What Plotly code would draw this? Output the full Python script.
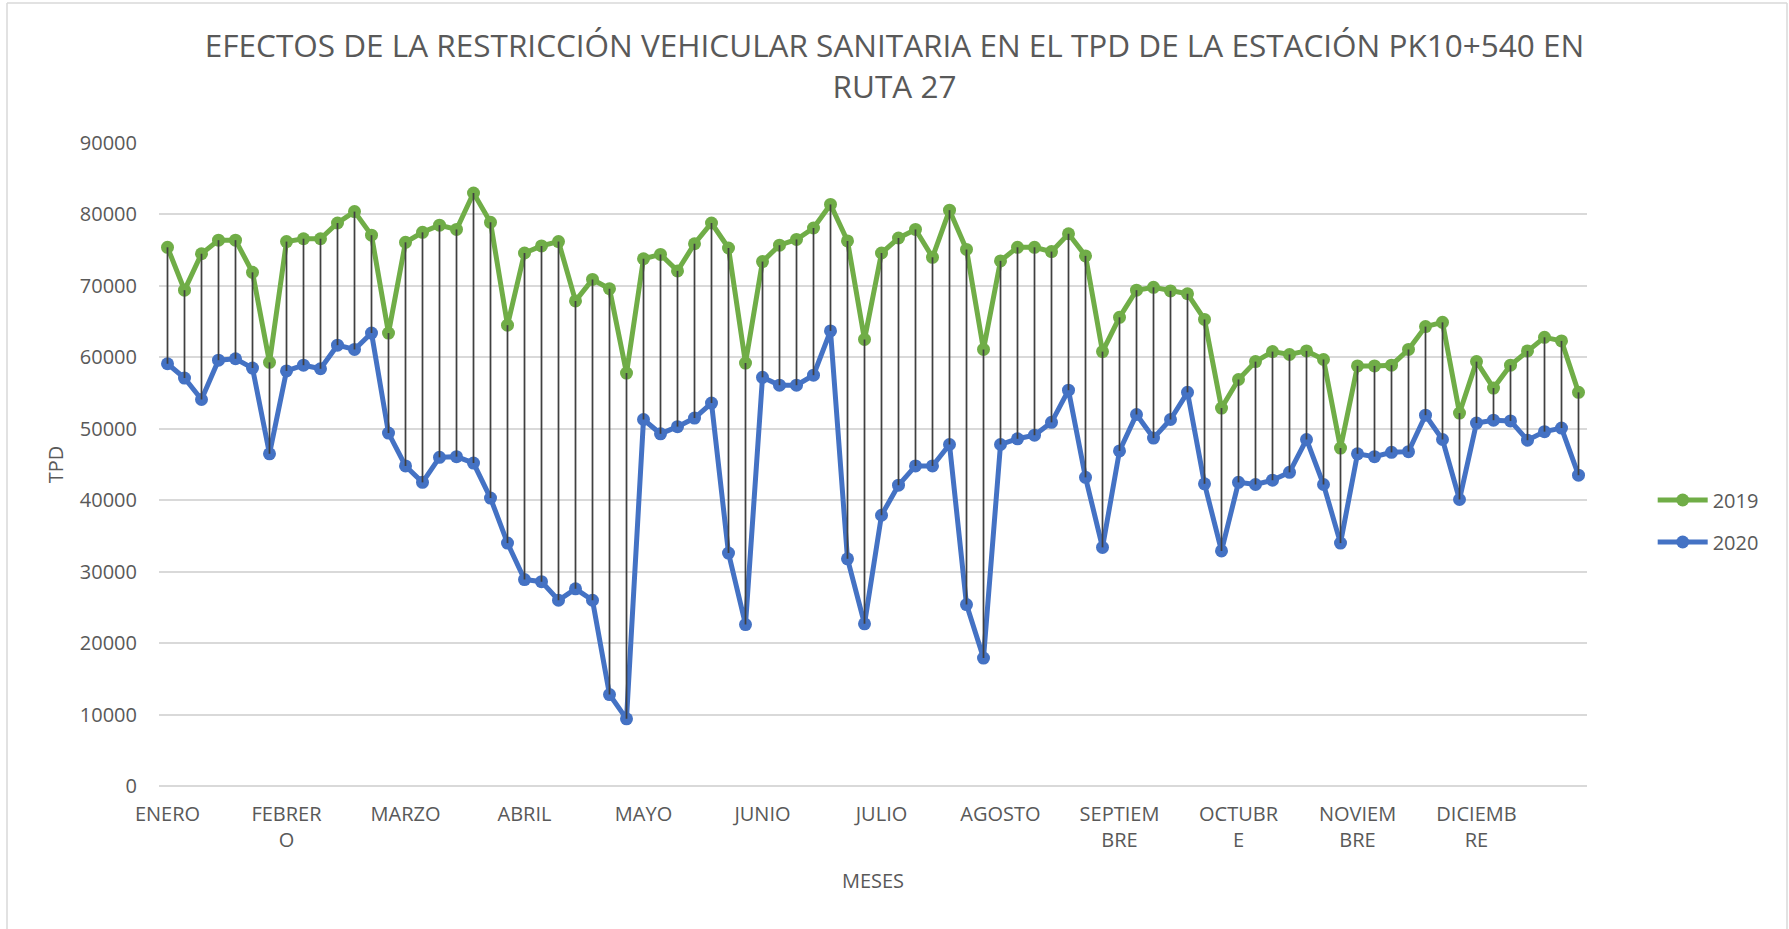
import plotly.graph_objects as go

# ---- data ----
meses = ["ENERO", "FEBRER<br>O", "MARZO", "ABRIL", "MAYO", "JUNIO", "JULIO",
         "AGOSTO", "SEPTIEM<br>BRE", "OCTUBR<br>E", "NOVIEM<br>BRE", "DICIEMB<br>RE"]
puntos_por_mes = 7

tpd_2019 = [75400, 69400, 74500, 76400, 76400, 71900, 59300,
            76200, 76600, 76600, 78800, 80400, 77100, 63400,
            76100, 77500, 78500, 77900, 83000, 78900, 64500,
            74600, 75600, 76200, 67900, 70900, 69600, 57800,
            73800, 74400, 72100, 75900, 78800, 75300, 59200,
            73400, 75700, 76500, 78100, 81400, 76300, 62500,
            74600, 76700, 77900, 74000, 80600, 75100, 61100,
            73500, 75400, 75400, 74800, 77300, 74200, 60800,
            65600, 69400, 69800, 69300, 68900, 65300, 52900,
            56900, 59400, 60800, 60400, 60900, 59700, 47300,
            58800, 58800, 58900, 61100, 64300, 64900, 52200,
            59400, 55700, 58900, 60900, 62800, 62300, 55100]

tpd_2020 = [59100, 57100, 54100, 59600, 59800, 58500, 46500,
            58100, 58900, 58400, 61700, 61100, 63400, 49400,
            44800, 42500, 46000, 46100, 45200, 40300, 34000,
            28900, 28600, 26000, 27600, 26000, 12800, 9400,
            51300, 49300, 50300, 51500, 53600, 32600, 22600,
            57200, 56100, 56100, 57500, 63700, 31800, 22700,
            37900, 42100, 44800, 44800, 47800, 25400, 17900,
            47800, 48600, 49100, 50900, 55400, 43200, 33400,
            46900, 52000, 48700, 51300, 55100, 42300, 32900,
            42500, 42200, 42800, 43900, 48500, 42200, 34000,
            46500, 46100, 46700, 46800, 51900, 48500, 40100,
            50800, 51200, 51100, 48400, 49600, 50100, 43500]

titulo = "EFECTOS DE LA RESTRICCIÓN VEHICULAR SANITARIA EN EL TPD DE LA ESTACIÓN PK10+540 EN<br>RUTA 27"

# ---- figure ----
x = list(range(len(tpd_2019)))
GREEN = "#70AD47"
BLUE = "#4472C4"
TEXT = "#595959"
FONT = "Open Sans"

fig = go.Figure()
fig.add_trace(go.Scatter(x=x, y=tpd_2019, name="2019", mode="lines+markers",
                         legendgroup="a",
                         line=dict(color=GREEN, width=5),
                         marker=dict(color=GREEN, size=13)))
fig.add_trace(go.Scatter(x=x, y=tpd_2020, name="2020", mode="lines+markers",
                         legendgroup="b",
                         line=dict(color=BLUE, width=5),
                         marker=dict(color=BLUE, size=13)))

# high-low lines
hx, hy = [], []
for i, (a, b) in enumerate(zip(tpd_2019, tpd_2020)):
    hx += [i, i, None]
    hy += [a, b, None]
fig.add_trace(go.Scatter(x=hx, y=hy, mode="lines", showlegend=False,
                         line=dict(color="#404040", width=1.75), hoverinfo="skip"))

W, H = 1789, 929
L, R, T, B = 159, 202, 143, 143
PX0, PX1, PY0, PY1 = L, W - R, T, H - B  # plot area in page pixels

def px_x(p):
    return (p - PX0) / (PX1 - PX0)

def px_y(q):
    return (PY1 - q) / (PY1 - PY0)

border = dict(color="#D9D9D9", width=1.5)
fig.add_shape(type="line", xref="paper", yref="paper", x0=px_x(7), x1=px_x(7),
              y0=px_y(H + 5), y1=px_y(3), line=border)
fig.add_shape(type="line", xref="paper", yref="paper", x0=px_x(7), x1=px_x(1787),
              y0=px_y(3), y1=px_y(3), line=border)
fig.add_shape(type="line", xref="paper", yref="paper", x0=px_x(1787), x1=px_x(1787),
              y0=px_y(H + 5), y1=px_y(3), line=border)

fig.update_layout(
    width=W, height=H,
    margin=dict(l=L, r=R, t=T, b=B, autoexpand=False),
    paper_bgcolor="white", plot_bgcolor="white",
    font=dict(family=FONT, size=20, color=TEXT),
    title=dict(text=titulo, x=0.5, xref="container", xanchor="center",
               y=1 - 57 / H, yref="container", yanchor="top",
               font=dict(family=FONT, size=31.5, color=TEXT)),
    showlegend=True,
    legend=dict(x=1.046, xanchor="left", y=px_y(521), yanchor="middle",
                font=dict(size=20, color=TEXT), itemwidth=50,
                tracegroupgap=13, bgcolor="rgba(0,0,0,0)"),
    xaxis=dict(range=[-0.5, len(x) - 0.5], automargin=False,
               tickvals=[i * puntos_por_mes for i in range(len(meses))],
               ticktext=meses, showgrid=False, zeroline=False,
               showline=False, ticks="", ticklabelstandoff=14,
               tickfont=dict(size=20, color=TEXT),
               title=dict(text="MESES", font=dict(size=20, color=TEXT), standoff=21)),
    yaxis=dict(range=[0, 90000], dtick=10000, tickformat="d", automargin=False,
               showgrid=True, gridcolor="#D9D9D9", gridwidth=1.5,
               zeroline=True, zerolinecolor="#D9D9D9", zerolinewidth=1.5,
               showline=False, ticks="", ticklabelstandoff=21,
               tickfont=dict(size=20, color=TEXT),
               title=dict(text="TPD", font=dict(size=20, color=TEXT), standoff=10)),
)

fig.write_html("out.html", config={"displayModeBar": False},
               post_script="document.body.style.margin='0';document.body.style.overflow='hidden';")
